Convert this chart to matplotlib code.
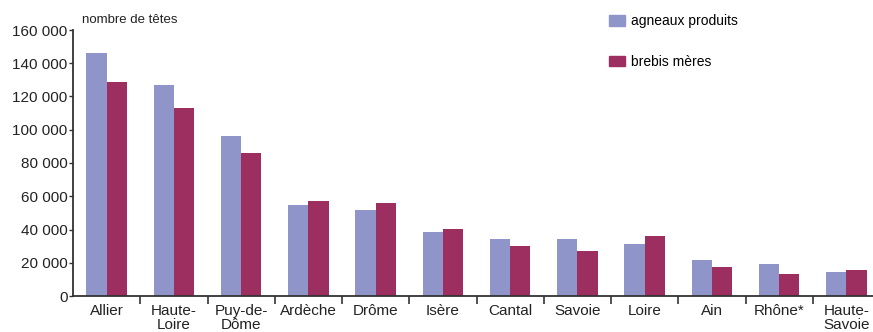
import matplotlib
matplotlib.use("Agg")
import matplotlib.pyplot as plt
import numpy as np
from matplotlib.patches import Patch

departements = ["Allier", "Haute-\nLoire", "Puy-de-\nDôme", "Ardèche", "Drôme", "Isère",
                "Cantal", "Savoie", "Loire", "Ain", "Rhône*", "Haute-\nSavoie"]
agneaux = [146000, 127000, 96500, 54800, 51800, 38700, 34300, 34300, 31100, 21700, 19400, 14300]
brebis = [129000, 113000, 86000, 57000, 56000, 40500, 30100, 27000, 36300, 17600, 13200, 15600]
yticks = [0, 20000, 40000, 60000, 80000, 100000, 120000, 140000, 160000]
ytick_labels = ["0", "20 000", "40 000", "60 000", "80 000", "100 000", "120 000", "140 000", "160 000"]

plt.rcParams["font.family"] = ["Liberation Sans Narrow", "Liberation Sans", "DejaVu Sans"]

blue = "#8f95c9"
red = "#9c2f60"
axis_col = "#333333"

fig = plt.figure(figsize=(8.73, 3.32), dpi=100)
# axis runs past the right edge of the picture, as in the original
ax = fig.add_axes([73 / 873, 1 - 296 / 332, (880 - 73) / 873, (296 - 30) / 332])

x = np.arange(len(departements)) + 0.5
w = 0.3
ax.bar(x - w / 2, agneaux, w, color=blue)
ax.bar(x + w / 2, brebis, w, color=red)

ax.set_xlim(0, 12)
ax.set_ylim(0, 160000)
ax.set_yticks(yticks)
ax.set_yticklabels(ytick_labels, fontsize=11, color="#222222")
ax.tick_params(axis="y", length=3, width=1, color=axis_col, pad=1)

# separators between departements on the x axis
ax.set_xticks(np.arange(1, 12))
ax.set_xticklabels([])
ax.tick_params(axis="x", length=6, width=1.2, color=axis_col)
for xi, name in zip(x, departements):
    ax.text(xi, -5000, name, ha="center", va="top", fontsize=11, color="#222222",
            linespacing=0.95, clip_on=False)

for s in ["top", "right"]:
    ax.spines[s].set_visible(False)
for s in ["left", "bottom"]:
    ax.spines[s].set_color(axis_col)
    ax.spines[s].set_linewidth(1.3)

fig.text(82 / 873, 1 - 20 / 332, "nombre de têtes", fontsize=9.5, va="center", color="#222222")

handles = [Patch(color=blue, label="agneaux produits"), Patch(color=red, label="brebis mères")]
fig.legend(handles=handles, loc="upper left", bbox_to_anchor=(596 / 873, 1 - 2 / 332),
           frameon=False, fontsize=10, labelspacing=1.9, handlelength=1.2,
           handleheight=0.8, handletextpad=0.4)

fig.savefig("out.png", dpi=100)
